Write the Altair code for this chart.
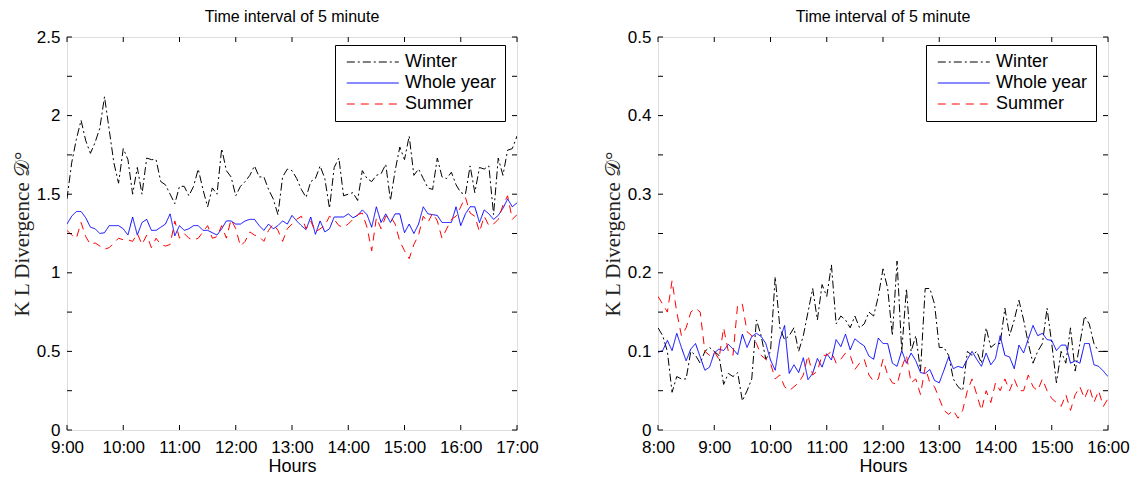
import altair as alt
import pandas as pd

# ---------------- data ----------------
series_names = ["Winter", "Whole year", "Summer"]
series_colors = ["black", "blue", "red"]
series_dash = [[8, 3, 2, 3], [1, 0], [8, 6]]

step_minutes = 5
left_start_hour = 9
right_start_hour = 8

left_winter = [1.47, 1.70, 1.85, 1.97, 1.84, 1.76, 1.83, 1.92, 2.12, 1.91, 1.70, 1.57, 1.79,
               1.72, 1.50, 1.67, 1.50, 1.73, 1.72, 1.72, 1.58, 1.56, 1.50, 1.44, 1.55, 1.55,
               1.49, 1.55, 1.66, 1.53, 1.42, 1.54, 1.50, 1.79, 1.65, 1.61, 1.49, 1.55, 1.58,
               1.62, 1.68, 1.61, 1.61, 1.53, 1.47, 1.37, 1.61, 1.66, 1.65, 1.60, 1.53, 1.48,
               1.58, 1.60, 1.68, 1.60, 1.41, 1.67, 1.73, 1.49, 1.50, 1.51, 1.46, 1.65, 1.60,
               1.58, 1.62, 1.63, 1.69, 1.46, 1.65, 1.80, 1.72, 1.87, 1.62, 1.66, 1.60, 1.54,
               1.53, 1.73, 1.61, 1.60, 1.64, 1.56, 1.51, 1.50, 1.68, 1.51, 1.67, 1.66, 1.68,
               1.37, 1.73, 1.62, 1.78, 1.79, 1.87]
left_whole = [1.31, 1.36, 1.39, 1.39, 1.35, 1.29, 1.28, 1.25, 1.255, 1.30, 1.30, 1.30, 1.28,
              1.24, 1.355, 1.24, 1.32, 1.34, 1.27, 1.27, 1.29, 1.31, 1.375, 1.235, 1.30, 1.27,
              1.28, 1.30, 1.30, 1.27, 1.27, 1.255, 1.24, 1.28, 1.33, 1.33, 1.31, 1.31, 1.33,
              1.34, 1.34, 1.30, 1.27, 1.31, 1.28, 1.30, 1.33, 1.31, 1.365, 1.33, 1.30, 1.275,
              1.355, 1.245, 1.33, 1.26, 1.28, 1.355, 1.355, 1.355, 1.375, 1.35, 1.365, 1.40,
              1.37, 1.29, 1.42, 1.32, 1.375, 1.32, 1.375, 1.375, 1.255, 1.31, 1.25, 1.31, 1.42,
              1.375, 1.37, 1.365, 1.32, 1.32, 1.32, 1.42, 1.30, 1.375, 1.42, 1.42, 1.32, 1.40,
              1.375, 1.34, 1.365, 1.41, 1.47, 1.42, 1.445]
left_summer = [1.27, 1.24, 1.22, 1.32, 1.23, 1.18, 1.19, 1.17, 1.15, 1.16, 1.19, 1.22, 1.21,
               1.21, 1.20, 1.25, 1.18, 1.24, 1.16, 1.22, 1.18, 1.17, 1.18, 1.33, 1.22, 1.25,
               1.22, 1.21, 1.22, 1.26, 1.30, 1.22, 1.23, 1.30, 1.22, 1.34, 1.28, 1.17, 1.20,
               1.26, 1.24, 1.23, 1.20, 1.27, 1.31, 1.27, 1.20, 1.28, 1.31, 1.34, 1.36, 1.28,
               1.33, 1.26, 1.28, 1.30, 1.36, 1.34, 1.30, 1.29, 1.31, 1.34, 1.37, 1.38, 1.29,
               1.14, 1.35, 1.28, 1.36, 1.36, 1.31, 1.20, 1.14, 1.09, 1.18, 1.24, 1.36, 1.32,
               1.38, 1.33, 1.22, 1.28, 1.34, 1.36, 1.42, 1.48, 1.38, 1.36, 1.26, 1.36, 1.30,
               1.31, 1.34, 1.43, 1.49, 1.34, 1.37]

right_winter = [0.13, 0.12, 0.10, 0.048, 0.068, 0.065, 0.065, 0.10, 0.095, 0.085, 0.10, 0.105,
                0.10, 0.095, 0.058, 0.072, 0.068, 0.073, 0.037, 0.05, 0.065, 0.14, 0.12, 0.09,
                0.10, 0.195, 0.13, 0.115, 0.12, 0.13, 0.10, 0.12, 0.15, 0.18, 0.14, 0.185, 0.17,
                0.21, 0.135, 0.145, 0.14, 0.13, 0.145, 0.13, 0.135, 0.15, 0.145, 0.17, 0.205,
                0.18, 0.12, 0.215, 0.10, 0.18, 0.10, 0.12, 0.075, 0.18, 0.18, 0.16, 0.105, 0.105,
                0.095, 0.065, 0.055, 0.05, 0.10, 0.095, 0.10, 0.085, 0.13, 0.105, 0.11, 0.11,
                0.155, 0.12, 0.14, 0.165, 0.14, 0.11, 0.085, 0.10, 0.11, 0.155, 0.11, 0.06, 0.10,
                0.085, 0.13, 0.075, 0.11, 0.145, 0.135, 0.11, 0.10, 0.10, 0.10]
right_whole = [0.099, 0.101, 0.114, 0.101, 0.123, 0.105, 0.088, 0.103, 0.110, 0.093, 0.076,
               0.080, 0.098, 0.103, 0.101, 0.109, 0.103, 0.096, 0.122, 0.105, 0.119, 0.123,
               0.119, 0.110, 0.089, 0.076, 0.115, 0.133, 0.072, 0.083, 0.073, 0.092, 0.064,
               0.072, 0.091, 0.080, 0.097, 0.089, 0.115, 0.106, 0.122, 0.102, 0.116, 0.111,
               0.107, 0.094, 0.090, 0.117, 0.110, 0.110, 0.085, 0.081, 0.101, 0.085, 0.098,
               0.088, 0.073, 0.072, 0.077, 0.063, 0.060, 0.076, 0.093, 0.078, 0.081, 0.079,
               0.090, 0.100, 0.090, 0.081, 0.098, 0.083, 0.091, 0.120, 0.095, 0.093, 0.078,
               0.108, 0.098, 0.116, 0.133, 0.120, 0.123, 0.115, 0.114, 0.101, 0.108, 0.108,
               0.085, 0.088, 0.085, 0.110, 0.110, 0.083, 0.081, 0.075, 0.068]
right_summer = [0.17, 0.16, 0.15, 0.19, 0.15, 0.12, 0.13, 0.15, 0.155, 0.15, 0.10, 0.095, 0.10,
                0.09, 0.13, 0.10, 0.095, 0.16, 0.16, 0.125, 0.12, 0.11, 0.095, 0.09, 0.085,
                0.065, 0.07, 0.055, 0.05, 0.055, 0.06, 0.07, 0.095, 0.07, 0.075, 0.095, 0.095,
                0.10, 0.085, 0.09, 0.098, 0.095, 0.077, 0.085, 0.09, 0.07, 0.062, 0.065, 0.09,
                0.07, 0.06, 0.058, 0.08, 0.095, 0.06, 0.065, 0.045, 0.08, 0.06, 0.055, 0.04,
                0.025, 0.02, 0.025, 0.015, 0.025, 0.05, 0.065, 0.045, 0.025, 0.05, 0.035, 0.06,
                0.05, 0.065, 0.05, 0.065, 0.05, 0.05, 0.07, 0.055, 0.05, 0.065, 0.05, 0.04,
                0.035, 0.03, 0.045, 0.025, 0.045, 0.055, 0.04, 0.055, 0.035, 0.05, 0.03, 0.04]

left_y_labels = [0, 0.5, 1, 1.5, 2, 2.5]
left_y_ticks = [0, 0.25, 0.5, 0.75, 1, 1.25, 1.5, 1.75, 2, 2.25, 2.5]
right_y_labels = [0, 0.1, 0.2, 0.3, 0.4, 0.5]
right_y_ticks = [0, 0.05, 0.1, 0.15, 0.2, 0.25, 0.3, 0.35, 0.4, 0.45, 0.5]

title_text = "Time interval of 5 minute"
x_title = "Hours"
y_title = "K L Divergence 𝒟°"

W, H = 450, 393
SANS = "Liberation Sans"
SERIF = "Liberation Serif"


def make_df(start, data):
    rows = []
    for name, vals in zip(series_names, data):
        for i, v in enumerate(vals):
            rows.append({"t": start + i * step_minutes / 60.0, "v": v, "series": name})
    return pd.DataFrame(rows)


def panel(start, data, ymax, ylabels, yticks):
    df = make_df(start, data)
    hours = list(range(start, start + 9))
    x_enc = alt.X("t:Q", scale=alt.Scale(domain=[start, start + 8], nice=False, zero=False),
                  axis=alt.Axis(values=hours, labelExpr="datum.value + ':00'", tickSize=0,
                                domain=False, grid=False, labelFont=SANS, labelFontSize=17,
                                labelColor="black", labelPadding=9, labelFlush=False,
                                title=x_title, titleFont=SANS, titleFontSize=18,
                                titleFontWeight="normal", titleColor="black", titlePadding=2))
    y_enc = alt.Y("v:Q", scale=alt.Scale(domain=[0, ymax], nice=False),
                  axis=alt.Axis(values=ylabels, format="~g", tickSize=0, domain=False,
                                grid=False, labelFont=SANS, labelFontSize=17,
                                labelColor="black", labelPadding=7, labelFlush=False,
                                title=y_title, titleFont=SERIF, titleFontSize=21,
                                titleFontWeight="normal", titleColor="#222222",
                                titlePadding=4))
    legend = alt.Legend(title=None, orient="none", legendX=268, legendY=8,
                        strokeColor="black", fillColor="white", padding=8,
                        symbolType="M-1,0H9", symbolSize=108, symbolStrokeWidth=1,
                        labelFont=SANS, labelFontSize=18, labelColor="black",
                        rowPadding=3, labelOffset=44)
    lines = alt.Chart(df).mark_line(strokeWidth=1, clip=True).encode(
        x=x_enc, y=y_enc,
        color=alt.Color("series:N", scale=alt.Scale(domain=series_names, range=series_colors),
                        legend=legend, sort=series_names),
        strokeDash=alt.StrokeDash("series:N",
                                  scale=alt.Scale(domain=series_names, range=series_dash),
                                  legend=legend, sort=series_names),
        detail="series:N",
    )
    ytick_df = pd.DataFrame({"v": yticks})
    xtick_df = pd.DataFrame({"t": hours})
    yl = alt.Chart(ytick_df).mark_rule(color="black", strokeWidth=1).encode(
        y=y_enc, x=alt.value(0), x2=alt.value(5))
    yr = alt.Chart(ytick_df).mark_rule(color="black", strokeWidth=1).encode(
        y=y_enc, x=alt.value(W - 5), x2=alt.value(W))
    xb = alt.Chart(xtick_df).mark_rule(color="black", strokeWidth=1).encode(
        x=x_enc, y=alt.value(H - 5), y2=alt.value(H))
    xt = alt.Chart(xtick_df).mark_rule(color="black", strokeWidth=1).encode(
        x=x_enc, y=alt.value(0), y2=alt.value(5))
    return alt.layer(lines, yl, yr, xb, xt).properties(
        width=W, height=H,
        title=alt.TitleParams(title_text, font=SANS, fontSize=16, fontWeight="normal",
                              color="black", offset=3),
    )


left = panel(left_start_hour, [left_winter, left_whole, left_summer], 2.5,
             left_y_labels, left_y_ticks)
right = panel(right_start_hour, [right_winter, right_whole, right_summer], 0.5,
              right_y_labels, right_y_ticks)

chart = alt.hconcat(left, right, spacing=62).resolve_scale(
    x="independent", y="independent", color="independent", strokeDash="independent"
).resolve_legend(color="independent", strokeDash="independent").configure_view(
    stroke="black", strokeWidth=1
).properties(
    padding={"left": 2, "top": 0, "right": 0, "bottom": 0}
).configure(background="white")

chart.save("out.html", embed_options={"renderer": "svg", "actions": False})
